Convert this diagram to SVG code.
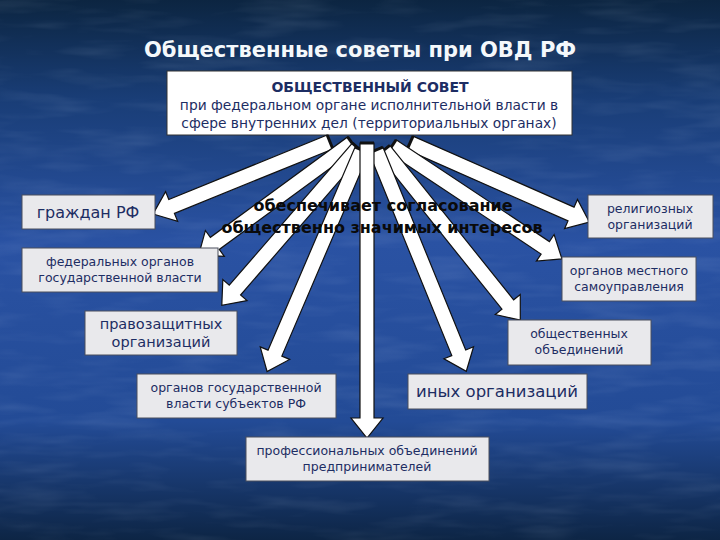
<svg xmlns="http://www.w3.org/2000/svg" width="720" height="540" viewBox="0 0 720 540">
<defs>
<linearGradient id="bg" x1="0" y1="0" x2="0" y2="1">
<stop offset="0" stop-color="#0c2541"/>
<stop offset="0.18" stop-color="#193d76"/>
<stop offset="0.45" stop-color="#2a52a3"/>
<stop offset="0.78" stop-color="#234b96"/>
<stop offset="1" stop-color="#0d2545"/>
</linearGradient>
<filter id="tex" x="0" y="0" width="100%" height="100%">
<feTurbulence type="fractalNoise" baseFrequency="0.012 0.07" numOctaves="3" seed="4"/>
<feColorMatrix type="matrix" values="0 0 0 0 0.75  0 0 0 0 0.85  0 0 0 0 1  1.4 0 0 0 -0.62"/>
</filter>
<style>
.box{fill:#e9e9ec;stroke:#4a4f5c;stroke-width:1}
.t{font-family:"DejaVu Sans","Verdana",sans-serif;fill:#1d2d63;text-anchor:middle}
.arr{fill:#ffffff;stroke:#111;stroke-width:1.2;stroke-linejoin:miter}
.cap{stroke:#111;stroke-width:3}
</style>
</defs>
<rect width="720" height="540" fill="url(#bg)"/>
<rect width="720" height="540" filter="url(#tex)" opacity="0.14"/>

<text x="360" y="57" font-family="DejaVu Sans, Verdana, sans-serif" font-weight="bold" font-size="21" fill="#f4f8fb" text-anchor="middle">Общественные советы при ОВД РФ</text>

<g id="council">
<rect x="167" y="71" width="405" height="64" fill="#ffffff" stroke="#333" stroke-width="1"/>
<text class="t" x="370" y="92" font-size="14" font-weight="bold" fill="#16264f">ОБЩЕСТВЕННЫЙ СОВЕТ</text>
<text class="t" x="369" y="110" font-size="13.8" fill="#16264f">при федеральном органе исполнительной власти в</text>
<text class="t" x="369" y="128" font-size="13.8" fill="#16264f">сфере внутренних дел (территориальных органах)</text>
</g>

<g id="connectors">
<g transform="translate(330,142) rotate(157.86)"><path class="arr" d="M0,-7.5 H171 V-16 L191,0 L171,16 V7.5 H0 Z"/><line class="cap" x1="0" y1="-7.5" x2="0" y2="7.5"/></g>
<g transform="translate(352,143) rotate(143.8)"><path class="arr" d="M0,-7.5 H170 V-16 L190,0 L170,16 V7.5 H0 Z"/><line class="cap" x1="0" y1="-7.5" x2="0" y2="7.5"/></g>
<g transform="translate(358,148) rotate(130.9)"><path class="arr" d="M0,-7.5 H188 V-16 L208,0 L188,16 V7.5 H0 Z"/><line class="cap" x1="0" y1="-7.5" x2="0" y2="7.5"/></g>
<g transform="translate(362,150) rotate(113.2)"><path class="arr" d="M0,-7.5 H221 V-16 L241,0 L221,16 V7.5 H0 Z"/><line class="cap" x1="0" y1="-7.5" x2="0" y2="7.5"/></g>
<g transform="translate(410,143) rotate(23.8)"><path class="arr" d="M0,-7.5 H176 V-16 L196,0 L176,16 V7.5 H0 Z"/><line class="cap" x1="0" y1="-7.5" x2="0" y2="7.5"/></g>
<g transform="translate(392,146) rotate(33.6)"><path class="arr" d="M0,-7.5 H184 V-16 L204,0 L184,16 V7.5 H0 Z"/><line class="cap" x1="0" y1="-7.5" x2="0" y2="7.5"/></g>
<g transform="translate(384,150) rotate(51.3)"><path class="arr" d="M0,-7.5 H198 V-16 L218,0 L198,16 V7.5 H0 Z"/><line class="cap" x1="0" y1="-7.5" x2="0" y2="7.5"/></g>
<g transform="translate(376,150) rotate(67.8)"><path class="arr" d="M0,-7.5 H219 V-16 L239,0 L219,16 V7.5 H0 Z"/><line class="cap" x1="0" y1="-7.5" x2="0" y2="7.5"/></g>
<g transform="translate(367,143) rotate(90)"><path class="arr" d="M0,-7 H275 V-16 L295,0 L275,16 V7 H0 Z"/><line class="cap" x1="0" y1="-7" x2="0" y2="7"/></g>
</g>

<g id="note">
<text x="383" y="211" font-family="DejaVu Sans, Verdana, sans-serif" font-weight="bold" font-size="16" fill="#0a0a0a" text-anchor="middle">обеспечивает согласование</text>
<text x="382" y="233" font-family="DejaVu Sans, Verdana, sans-serif" font-weight="bold" font-size="16" fill="#0a0a0a" text-anchor="middle">общественно значимых интересов</text>
</g>

<g id="n1"><rect class="box" x="22" y="195" width="133" height="34"/><text class="t" x="88" y="218" font-size="16">граждан РФ</text></g>
<g id="n2"><rect class="box" x="22" y="248" width="196" height="44"/><text class="t" x="120" y="266" font-size="12.5">федеральных органов</text><text class="t" x="120" y="282" font-size="12.5">государственной власти</text></g>
<g id="n3"><rect class="box" x="85" y="311" width="152" height="44"/><text class="t" x="161" y="329" font-size="14.5">правозащитных</text><text class="t" x="161" y="347" font-size="14.5">организаций</text></g>
<g id="n4"><rect class="box" x="137" y="374" width="199" height="44"/><text class="t" x="236" y="392" font-size="12.5">органов государственной</text><text class="t" x="236" y="408" font-size="12.5">власти субъектов РФ</text></g>
<g id="n5"><rect class="box" x="246" y="437" width="243" height="44"/><text class="t" x="367" y="455" font-size="12.5">профессиональных объединений</text><text class="t" x="367" y="471" font-size="12.5">предпринимателей</text></g>
<g id="n6"><rect class="box" x="408" y="374" width="179" height="35"/><text class="t" x="497" y="397" font-size="16.5">иных организаций</text></g>
<g id="n7"><rect class="box" x="508" y="320" width="143" height="45"/><text class="t" x="579" y="338" font-size="12.5">общественных</text><text class="t" x="579" y="354" font-size="12.5">объединений</text></g>
<g id="n8"><rect class="box" x="562" y="257" width="134" height="44"/><text class="t" x="629" y="275" font-size="12.5">органов местного</text><text class="t" x="629" y="291" font-size="12.5">самоуправления</text></g>
<g id="n9"><rect class="box" x="588" y="195" width="125" height="43"/><text class="t" x="650" y="213" font-size="12.5">религиозных</text><text class="t" x="650" y="229" font-size="12.5">организаций</text></g>
</svg>
